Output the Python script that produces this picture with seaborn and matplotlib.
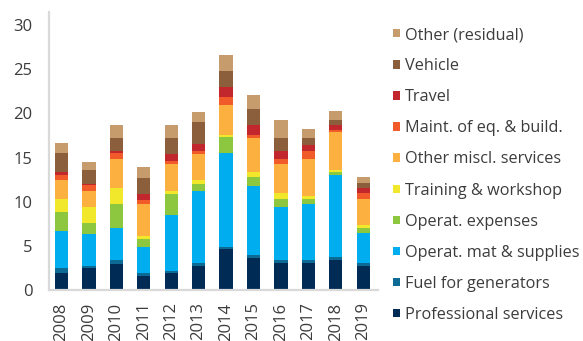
import matplotlib
matplotlib.use("Agg")
import matplotlib.pyplot as plt
from matplotlib.patches import Patch
import numpy as np
import pandas as pd
import seaborn as sns

years = ["2008", "2009", "2010", "2011", "2012", "2013",
         "2014", "2015", "2016", "2017", "2018", "2019"]

# Spending components, stacked bottom to top
professional = [1.9, 2.45, 3.0, 1.6, 1.9, 2.75, 4.6, 3.65, 3.1, 3.1, 3.35, 2.75]
fuel = [0.55, 0.3, 0.4, 0.3, 0.3, 0.35, 0.3, 0.3, 0.3, 0.3, 0.35, 0.35]
operat_mat = [4.25, 3.65, 3.6, 3.0, 6.3, 8.1, 10.6, 7.85, 6.0, 6.3, 9.3, 3.35]
operat_exp = [2.1, 1.2, 2.7, 0.9, 2.4, 0.85, 1.8, 0.95, 0.9, 0.65, 0.35, 0.6]
training = [1.5, 1.8, 1.9, 0.3, 0.35, 0.4, 0.3, 0.6, 0.65, 0.35, 0.3, 0.3]
other_misc = [2.15, 1.8, 3.25, 3.6, 3.0, 3.0, 3.35, 3.9, 3.3, 4.15, 4.2, 3.0]
maint = [0.55, 0.65, 0.65, 0.55, 0.35, 0.25, 0.95, 0.3, 0.55, 0.9, 0.3, 0.65]
travel = [0.4, 0.2, 0.25, 0.65, 0.85, 0.85, 1.05, 1.2, 0.9, 0.65, 0.6, 0.6]
vehicle = [2.1, 1.5, 1.5, 1.75, 1.75, 2.45, 1.85, 1.8, 1.5, 0.85, 0.55, 0.55]
other_resid = [1.2, 0.95, 1.5, 1.25, 1.5, 1.2, 1.8, 1.5, 2.1, 0.95, 0.95, 0.65]

series_names = ["Professional services", "Fuel for generators",
                "Operat. mat & supplies", "Operat. expenses",
                "Training & workshop", "Other miscl. services",
                "Maint. of eq. & build.", "Travel", "Vehicle",
                "Other (residual)"]
series_values = [professional, fuel, operat_mat, operat_exp, training,
                 other_misc, maint, travel, vehicle, other_resid]
series_colors = ["#002B54", "#0D6A94", "#00AEEF", "#8DC63F", "#F2E82B",
                 "#FBB040", "#F15A29", "#C1272D", "#8B5E3C", "#C69C6D"]

sns.set_theme(style="white")
plt.rcParams["font.family"] = ["Open Sans", "DejaVu Sans"]

fig = plt.figure(figsize=(5.83, 3.41), dpi=100)
ax = fig.add_axes([49 / 583, 1 - 290 / 341, (378 - 49) / 583, (290 - 12) / 341])

# Stack by drawing cumulative totals from the top layer downwards
cum = np.cumsum(np.array(series_values), axis=0)
for i in range(len(series_names) - 1, -1, -1):
    df = pd.DataFrame({"year": years, "value": cum[i]})
    sns.barplot(data=df, x="year", y="value", color=series_colors[i],
                width=0.485, saturation=1, ax=ax, linewidth=0)

ax.set_xlim(-0.455, 11.54)
ax.set_ylim(0, 31.5)
ax.set_yticks(range(0, 31, 5))
ax.set_xlabel("")
ax.set_ylabel("")

text_color = "#3C3C3C"
ax.tick_params(axis="y", length=0, pad=12, labelsize=12, labelcolor=text_color)
ax.tick_params(axis="x", length=0, pad=9, labelsize=12, labelcolor=text_color,
               rotation=90)
for side in ["top", "right"]:
    ax.spines[side].set_visible(False)
for side in ["left", "bottom"]:
    ax.spines[side].set_color("#D9D9D9")
    ax.spines[side].set_linewidth(1.6)

handles = [Patch(facecolor=c, edgecolor="none") for c in series_colors][::-1]
labels = series_names[::-1]
fig.legend(handles, labels, loc="upper left",
           bbox_to_anchor=(393 / 583, 1 - 27 / 341), frameon=False,
           fontsize=11.7, labelcolor=text_color, handlelength=0.42,
           handleheight=0.42, handletextpad=0.32, labelspacing=0.93,
           borderaxespad=0, borderpad=0)

fig.savefig("out.png", dpi=100)
